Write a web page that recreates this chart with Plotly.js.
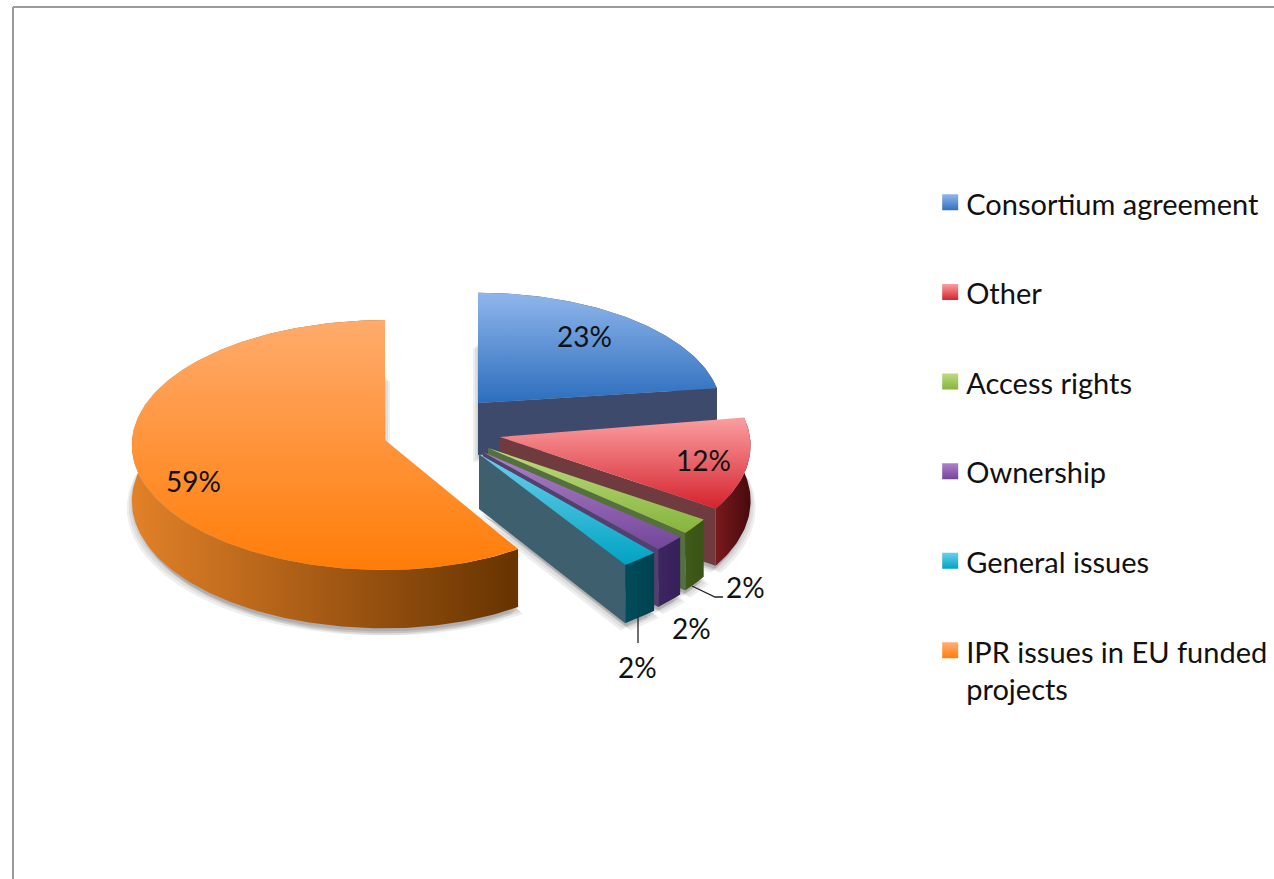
<!DOCTYPE html>
<html>
<head>
<meta charset="utf-8">
<script src="https://cdn.plot.ly/plotly-3.0.1.min.js"></script>
<style>html,body{margin:0;padding:0;background:#fff;overflow:hidden}#chart{width:1274px;height:879px}</style>
</head>
<body>
<div id="chart"></div>
<script>
// ---- data ----
const categories = ['Consortium agreement','Other','Access rights','Ownership','General issues','IPR issues in EU funded<br>projects'];
const values = [23, 12, 2, 2, 2, 59];

// ---- drawing style: colours ----
const topColors  = [['#8fb6ec','#2c6ebd'],['#fb9fa0','#d5232e'],['#bcdc80','#86b43c'],['#ac82c8','#74469a'],['#6cd0ea','#00a3c4'],['#ffab6c','#ff7d08']];
const wallColors = [['#3e4a6b','#3e4a6b'],['#7a1a1e','#470a0c'],['#3f5a1a','#3a5316'],['#3e2660','#36205a'],['#004c5c','#00424f'],['#e28128','#673300']];
const cutColors  = ['#3e4a6b','#6f3b3f','#55703f','#52406f','#3e5f6e','#a05a10'];
const legendColors = [['#2f70bf','#8fb6ec'],['#d5232e','#fb9fa0'],['#86b43c','#bcdc80'],['#74469a','#ac82c8'],['#00a3c4','#6cd0ea'],['#ff7d08','#ffb077']];

// ---- drawing geometry: exploded tilted disc, per slice ----
const apexX = [478, 500, 488, 483, 479, 385];
const apexY = [403, 437, 448, 452, 454, 440];
const radXLeft  = [243, 250, 250, 250, 250, 253];
const radXRight = [243, 250, 250, 250, 250, 240];
const radY  = [118, 123, 123, 123, 125, 124.8];
const persp = [.07, .07, .07, .07, .07, .04];
const turnStart = [0, -2, -2, -2, -2, 0];
const turnEnd   = [0, -2, -2, -2, -1, 0];
const depth = [52, 55, 55, 55, 55, 56];
const labelX = [584, 703, 745, 691, 637, 193];
const labelY = [336, 460, 587, 628, 667, 481];
const leaderX = [[692,715,723],[638,638]];
const leaderY = [[586,597,597],[617,643]];
const swatchLift = [-1, -1, -1, -1, -1, -20];

const rad = d => d * Math.PI / 180;
function pt(i, deg, z) {
  const a = rad(deg), s = 1 / (1 + persp[i] * Math.cos(a)), sn = Math.sin(a);
  const rx = sn >= 0 ? radXRight[i] : radXLeft[i];
  return [apexX[i] + rx * sn * s, apexY[i] - radY[i] * Math.cos(a) * s + z * s];
}
function arc(i, a, b, z) {
  const out = [], n = Math.max(12, Math.ceil(Math.abs(b - a)));
  for (let k = 0; k <= n; k++) out.push(pt(i, a + (b - a) * k / n, z));
  return out;
}
function poly(points, extra) {
  return Object.assign({
    x: points.map(p => p[0]), y: points.map(p => p[1]),
    type: 'scatter', mode: 'lines', fill: 'toself', line: {width: 0},
    hoverinfo: 'skip', showlegend: false
  }, extra);
}
function grad(kind, pair, start, stop) {
  return {fillgradient: {type: kind, start: start, stop: stop,
    colorscale: [[0, pair[0]], [1, pair[1]]]}, fillcolor: pair[0]};
}

let cum = 0;
const spans = values.map((v, i) => { const s = [cum * 3.6 + turnStart[i], (cum + v) * 3.6 + turnEnd[i]]; cum += v; return s; });

const traces = [];
// soft shadow of the base of every slice
[[-5,7],[5,7],[-3,5],[3,5],[-1,3],[1,3]].forEach(off => {
  values.forEach((v, i) => {
    const [a, b] = spans[i];
    const base = [[apexX[i], apexY[i] + depth[i]]].concat(arc(i, a, b, depth[i]));
    traces.push(poly(base.map(p => [p[0] + off[0], p[1] + off[1]]), {fillcolor: 'rgba(90,90,90,0.10)'}));
  });
});
// slices back to front: orange first, then clockwise from the blue one
[5, 0, 1, 2, 3, 4].forEach(i => {
  const [a, b] = spans[i];
  const d = depth[i];
  const top = arc(i, a, b, 0);
  const low = arc(i, a, b, d).reverse();
  const xs = top.concat(low).map(p => p[0]);
  const wx0 = Math.min.apply(null, xs), wx1 = Math.max.apply(null, xs);
  traces.push(poly(top.concat(low), grad('horizontal', wallColors[i], wx0, wx1)));
  const end = pt(i, b, 0), endLow = pt(i, b, d);
  traces.push(poly([[apexX[i], apexY[i]], end, endLow, [apexX[i], apexY[i] + d]], {fillcolor: cutColors[i]}));
  const face = [[apexX[i], apexY[i]]].concat(top);
  const ys = face.map(p => p[1]);
  traces.push(poly(face, grad('vertical', topColors[i], Math.min.apply(null, ys), Math.max.apply(null, ys))));
});
// leader lines
leaderX.forEach((lx, j) => traces.push({x: lx, y: leaderY[j], type: 'scatter', mode: 'lines',
  line: {color: '#222', width: 1.3}, hoverinfo: 'skip', showlegend: false}));
// legend entries
categories.forEach((c, i) => traces.push({
  x: [null], y: [null], type: 'scatter', mode: 'markers', name: c, legendgroup: 'g' + i,
  marker: {symbol: 'square', size: 16, color: legendColors[i][1],
           gradient: {type: 'vertical', color: legendColors[i][0]}, line: {width: 0}}
}));

const layout = {
  width: 1274, height: 879,
  margin: {l: 0, r: 0, t: 0, b: 0, pad: 0},
  paper_bgcolor: '#fff', plot_bgcolor: '#fff',
  font: {family: 'Lato, "Open Sans", sans-serif', color: '#111'},
  xaxis: {range: [0, 1274], visible: false, fixedrange: true},
  yaxis: {range: [879, 0], visible: false, fixedrange: true},
  showlegend: true,
  legend: {x: 0.7270, y: 1 - 178 / 879, xanchor: 'left', yanchor: 'top',
    traceorder: 'grouped', tracegroupgap: 48.9, bgcolor: 'rgba(0,0,0,0)',
    font: {family: 'Lato, sans-serif', size: 29, color: '#111'}},
  annotations: values.map((v, i) => ({
    x: labelX[i], y: labelY[i], text: v + '%', showarrow: false,
    xanchor: 'center', yanchor: 'middle',
    font: {family: 'Lato, sans-serif', size: 28, color: '#111'}
  })),
  shapes: [
    {type: 'line', xref: 'paper', yref: 'paper', x0: 13 / 1274, x1: 1, y0: 1 - 7 / 879, y1: 1 - 7 / 879, line: {color: '#9a9a9a', width: 2}},
    {type: 'line', xref: 'paper', yref: 'paper', x0: 13 / 1274, x1: 13 / 1274, y0: 0, y1: 1 - 7 / 879, line: {color: '#9a9a9a', width: 2}}
  ]
};
Plotly.newPlot('chart', traces, layout, {displayModeBar: false, staticPlot: true}).then(gd => {
  // the reference keeps its legend swatches closer to the text and on the first text line
  gd.querySelectorAll('.legend .legendsymbols').forEach((n, i) => n.setAttribute('transform', 'translate(4,' + swatchLift[i] + ')'));
});
</script>
</body>
</html>
